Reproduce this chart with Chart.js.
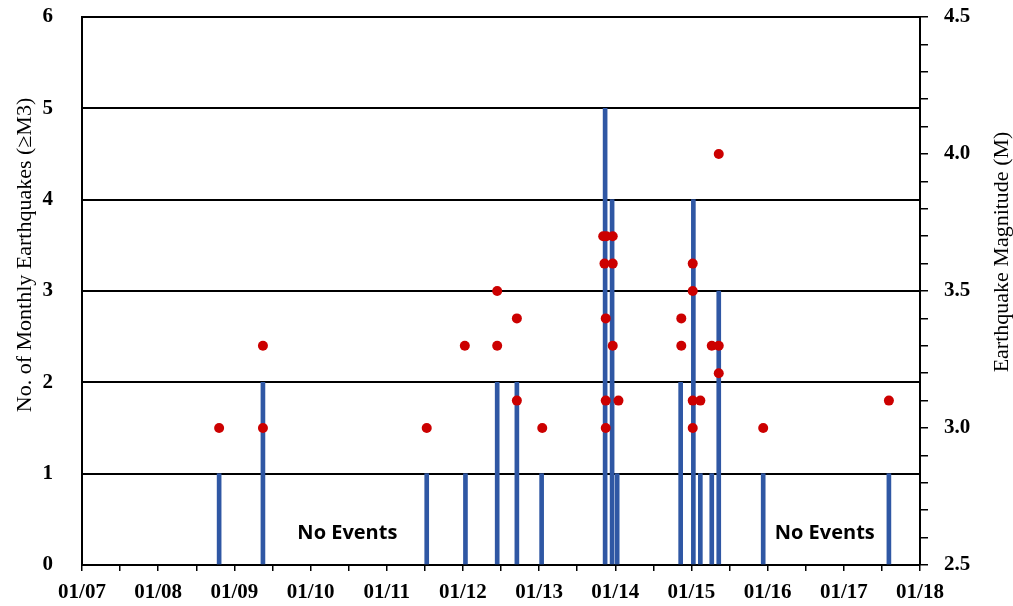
<!DOCTYPE html>
<html>
<head>
<meta charset="utf-8">
<script src="https://cdn.jsdelivr.net/npm/chart.js@4.4.1/dist/chart.umd.min.js"></script>
<style>
  body { margin: 0; background: #ffffff; }
  #quakeChart { display: block; }
</style>
</head>
<body>
<canvas id="quakeChart" width="1013" height="606"></canvas>
<script>
// x values are months since 01/2007
const yearLabels = ['01/07', '01/08', '01/09', '01/10', '01/11', '01/12', '01/13', '01/14', '01/15', '01/16', '01/17', '01/18'];
const countTicks = [0, 1, 2, 3, 4, 5, 6];

const barMonths = [21.6, 28.5, 54.3, 60.4, 65.4, 68.5, 72.4, 82.4, 83.5, 84.3, 94.3, 96.3, 97.4, 99.2, 100.3, 107.3, 127.1];
const barCounts = [1, 2, 1, 1, 2, 2, 1, 5, 4, 1, 2, 4, 1, 1, 3, 1, 1];

const quakeMonths = [21.6, 28.5, 28.5, 54.3, 60.3, 65.4, 65.4, 68.5, 68.5, 72.5,
    82.1, 82.6, 82.3, 82.5, 82.5, 82.5, 83.6, 83.6, 83.6, 84.5,
    94.4, 94.4, 96.2, 96.2, 96.2, 96.2, 97.4, 99.2, 100.3, 100.3, 100.3, 107.3, 127.1];
const quakeMags = [3.0, 3.3, 3.0, 3.0, 3.3, 3.5, 3.3, 3.4, 3.1, 3.0,
    3.7, 3.7, 3.6, 3.4, 3.1, 3.0, 3.7, 3.6, 3.3, 3.1,
    3.4, 3.3, 3.6, 3.5, 3.1, 3.0, 3.1, 3.3, 4.0, 3.3, 3.2, 3.0, 3.1];

const noEventsMonths = [41.8, 117.0];
const noEventsCount = 0.35;

const tickFont = { family: "'Liberation Serif', 'Times New Roman', serif", size: 21, weight: 'bold' };

// titles and "No Events" labels
const annotations = {
    id: 'annotations',
    afterDraw(chart) {
        const ctx = chart.ctx;
        const xs = chart.scales.x, ys = chart.scales.y;
        ctx.save();
        ctx.fillStyle = '#000000';
        ctx.textAlign = 'center';
        ctx.textBaseline = 'middle';
        ctx.font = "bold 20px 'Open Sans', sans-serif";
        noEventsMonths.forEach(m => {
            ctx.fillText('No Events', xs.getPixelForValue(m), ys.getPixelForValue(noEventsCount));
        });

        ctx.font = "22px 'Liberation Serif', 'Times New Roman', serif";
        ctx.translate(25, 255);
        ctx.rotate(-Math.PI / 2);
        ctx.fillText('No. of Monthly Earthquakes (\u2265M3)', 0, 0);
        ctx.restore();

        ctx.save();
        ctx.fillStyle = '#000000';
        ctx.textAlign = 'center';
        ctx.textBaseline = 'middle';
        ctx.font = "22px 'Liberation Serif', 'Times New Roman', serif";
        ctx.translate(1002, 252);
        ctx.rotate(-Math.PI / 2);
        ctx.fillText('Earthquake Magnitude (M)', 0, 0);
        ctx.restore();
    }
};

const noEdgePadding = s => {
    s.paddingTop = 0;
    s.paddingBottom = 0;
    s.paddingLeft = 0;
    s.paddingRight = 0;
};

const ctx = document.getElementById('quakeChart').getContext('2d');
new Chart(ctx, {
    type: 'bar',
    data: {
        datasets: [{
            type: 'bar',
            data: barMonths.map((m, i) => ({ x: m, y: barCounts[i] })),
            backgroundColor: '#2f57a4',
            barThickness: 4,
            xAxisID: 'x',
            yAxisID: 'y',
            order: 2
        }, {
            type: 'scatter',
            data: quakeMonths.map((m, i) => ({ x: m, y: quakeMags[i] })),
            backgroundColor: '#cc0000',
            borderWidth: 0,
            pointRadius: 5,
            showLine: false,
            xAxisID: 'x',
            yAxisID: 'y2',
            order: 1
        }]
    },
    options: {
        responsive: false,
        animation: false,
        layout: { padding: { top: 17, left: 0, right: 0, bottom: 0 } },
        plugins: {
            legend: { display: false },
            tooltip: { enabled: false }
        },
        scales: {
            x: {
                type: 'linear',
                offset: false,
                min: 0,
                max: 132,
                afterFit: s => { s.height = 41; noEdgePadding(s); },
                grid: { offset: false, drawOnChartArea: false, color: '#000000', lineWidth: 1.5, tickLength: 6 },
                border: { color: '#000000', width: 2 },
                ticks: {
                    stepSize: 6,
                    autoSkip: false,
                    maxRotation: 0,
                    padding: 9,
                    color: '#000000',
                    font: tickFont,
                    callback: v => (v % 12 === 0 ? yearLabels[v / 12] : '')
                }
            },
            y: {
                position: 'left',
                min: 0,
                max: 6,
                afterFit: s => { s.width = 82; noEdgePadding(s); },
                afterBuildTicks: s => { s.ticks = countTicks.map(v => ({ value: v })); },
                grid: { color: '#000000', lineWidth: 2, drawTicks: false },
                border: { color: '#000000', width: 2 },
                ticks: { padding: 29, color: '#000000', font: tickFont }
            },
            y2: {
                position: 'right',
                min: 2.5,
                max: 4.5,
                afterFit: s => { s.width = 93; noEdgePadding(s); },
                grid: { drawOnChartArea: false, color: '#000000', lineWidth: 1.5, tickLength: 8 },
                border: { color: '#000000', width: 2 },
                ticks: {
                    stepSize: 0.1,
                    autoSkip: false,
                    padding: 16,
                    color: '#000000',
                    font: tickFont,
                    callback: v => (Math.round(v * 10) % 5 === 0 ? v.toFixed(1) : '')
                }
            }
        }
    },
    plugins: [annotations]
});
</script>
</body>
</html>
